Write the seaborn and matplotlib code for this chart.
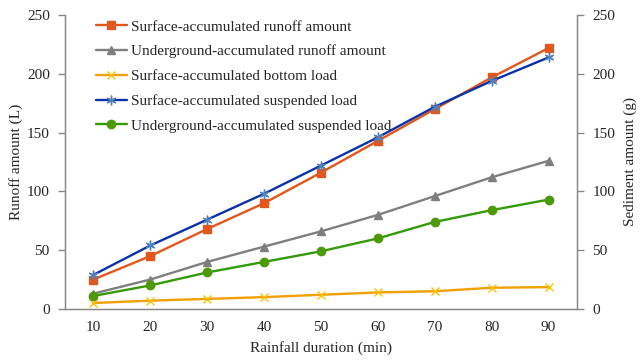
import matplotlib
matplotlib.use("Agg")
import matplotlib.pyplot as plt
import seaborn as sns
import pandas as pd
from matplotlib.ticker import FixedLocator

# Data
durations = [10, 20, 30, 40, 50, 60, 70, 80, 90]
surface_runoff = [25, 45, 68, 90, 116, 143, 170, 197, 222]
underground_runoff = [13, 25, 40, 53, 66, 80, 96, 112, 126]
surface_bottom = [5, 7, 8.5, 10, 12, 14, 15, 18, 18.5]
surface_suspended = [29, 54, 76, 98, 122, 146, 172, 194, 214]
underground_suspended = [11, 20, 31, 40, 49, 60, 74, 84, 93]

# name, values, line colour, marker colour, marker, marker size
series = [
    ("Surface-accumulated runoff amount", surface_runoff, "#E2571C", "#E2571C", "s", 6),
    ("Underground-accumulated runoff amount", underground_runoff, "#7F7F7F", "#7F7F7F", "^", 6),
    ("Surface-accumulated bottom load", surface_bottom, "#F0A000", "#FFC000", "x", 6),
    ("Surface-accumulated suspended load", surface_suspended, "#0B33A8", "#4F81BD", (6, 2, 0), 7),
    ("Underground-accumulated suspended load", underground_suspended, "#339A0A", "#4E9A06", "o", 6),
]

sns.set_style("white")
plt.rcParams["font.family"] = ["Liberation Serif", "DejaVu Serif"]

fig = plt.figure(figsize=(6.44, 3.6), dpi=100)
ax = fig.add_axes([0.101, 0.142, 0.795, 0.816])

pos = list(range(len(durations)))
for name, vals, lc, mc, mk, ms in series:
    df = pd.DataFrame({"pos": pos, "val": vals})
    sns.lineplot(data=df, x="pos", y="val", ax=ax, color=lc, lw=1.7,
                 marker=mk, markersize=ms, markerfacecolor=mc,
                 markeredgecolor=mc, markeredgewidth=1.0, label=name)

ax.set_xlim(-0.5, len(durations) - 0.5)
ax.set_ylim(0, 250)
ax.set_yticks([0, 50, 100, 150, 200, 250])
ax.set_xticks(pos)
ax.set_xticklabels([str(d) for d in durations])
ax.xaxis.set_minor_locator(FixedLocator([p - 0.5 for p in range(len(durations) + 1)]))
ax.tick_params(axis="x", which="major", length=0, labelsize=11, pad=9)
ax.tick_params(axis="x", which="minor", length=5, width=1, color="#888888", direction="out")
ax.tick_params(axis="y", length=5, width=1, color="#888888", direction="out", labelsize=11, left=True, pad=6)

ax.set_xlabel("Rainfall duration (min)", fontsize=11, labelpad=5)
ax.set_ylabel("Runoff amount (L)", fontsize=11, labelpad=3)

for s in ["left", "bottom", "right"]:
    ax.spines[s].set_color("#888888")
    ax.spines[s].set_linewidth(1)
ax.spines["top"].set_visible(False)

ax2 = ax.twinx()
ax2.set_ylim(0, 250)
ax2.set_yticks([0, 50, 100, 150, 200, 250])
ax2.tick_params(axis="y", length=5, width=1, color="#888888", direction="out", labelsize=11, right=True, pad=6)
ax2.set_ylabel("Sediment amount (g)", fontsize=11, labelpad=6)
for s in ["left", "bottom", "right"]:
    ax2.spines[s].set_color("#888888")
ax2.spines["top"].set_visible(False)

handles, labels = ax.get_legend_handles_labels()
ax.legend(handles, labels, loc="upper left", bbox_to_anchor=(0.04, 1.02),
          frameon=False, fontsize=11, handlelength=2.0, handletextpad=0.25,
          labelspacing=0.72, borderaxespad=0.3)

fig.savefig("out.png", dpi=100)
